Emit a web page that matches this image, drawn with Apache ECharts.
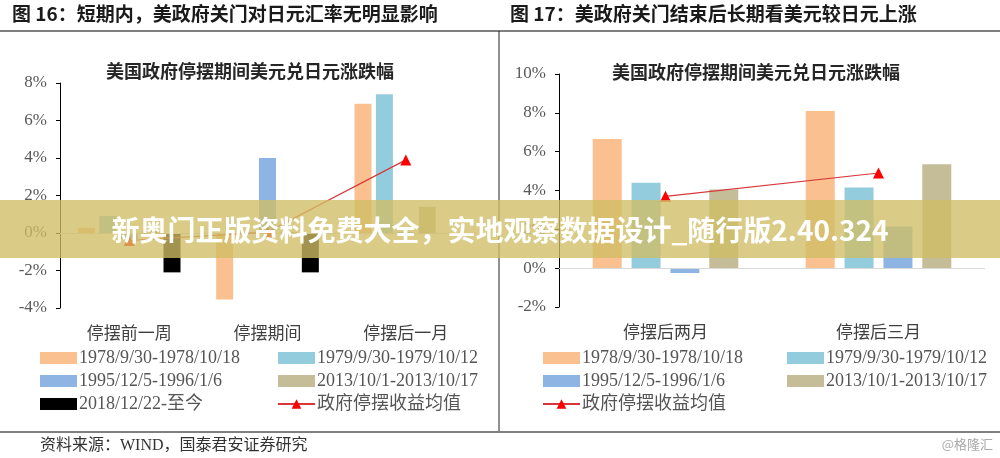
<!DOCTYPE html>
<html><head><meta charset="utf-8">
<script src="https://cdn.jsdelivr.net/npm/echarts@6/dist/echarts.min.js"></script>
<style>html,body{margin:0;padding:0;background:#fff}#c{width:1000px;height:458px}</style>
</head><body><div id="c"></div>
<script>
// ---- data ----
const leftCategories = ['停摆前一周', '停摆期间', '停摆后一月'];
const rightCategories = ['停摆后两月', '停摆后三月'];
const periodNames = ['1978/9/30-1978/10/18', '1979/9/30-1979/10/12', '1995/12/5-1996/1/6', '2013/10/1-2013/10/17', '2018/12/22-至今'];
const meanName = '政府停摆收益均值';
const left1978 = [0.28, -3.55, 6.9];
const left1979 = [0.9, 0.05, 7.4];
const left1995 = [-0.3, 4.0, 0.05];
const left2013 = [0.1, 0.05, 1.4];
const left2018 = [-2.1, -2.1, null];
const leftMean = [-0.4, 0.05, 3.9];
const right1978 = [6.65, 8.1];
const right1979 = [4.4, 4.15];
const right1995 = [-0.25, 2.15];
const right2013 = [4.05, 5.35];
const rightMean = [3.7, 4.9];
const leftTicks = { min: -4, max: 8, step: 2 };
const rightTicks = { min: -2, max: 10, step: 2 };
const headerLeft = '图 16：短期内，美政府关门对日元汇率无明显影响';
const headerRight = '图 17：美政府关门结束后长期看美元较日元上涨';
const chartTitle = '美国政府停摆期间美元兑日元涨跌幅';
const sourceText = '资料来源：WIND，国泰君安证券研究';
const watermark = '@格隆汇';
const bannerText = '新奥门正版资料免费大全，实地观察数据设计_随行版2.40.324';

// ---- styles ----
const colors = ['#FAC090', '#93CDDD', '#8EB4E3', '#C4BD97', '#000000'];
const serif = '"Liberation Serif", "Noto Sans CJK SC", serif';
const cjk = '"Noto Sans CJK SC", sans-serif';

const chart = echarts.init(document.getElementById('c'), null, { renderer: 'canvas' });

function yAxis(gi, t) {
  return {
    type: 'value', gridIndex: gi, min: t.min, max: t.max, interval: t.step,
    axisLine: { show: true, lineStyle: { color: '#000', width: 1 } },
    axisTick: { show: true, length: 4, lineStyle: { color: '#000' } },
    splitLine: { show: false },
    axisLabel: { formatter: '{value}%', fontFamily: serif, fontSize: 17, color: '#595959', margin: 13 }
  };
}
function xAxis(gi, cats) {
  return {
    type: 'category', gridIndex: gi, data: cats,
    axisLine: { show: false, onZero: false }, axisTick: { show: false },
    axisLabel: { fontFamily: cjk, fontSize: 17, color: '#404040', margin: 16 }
  };
}
const zeroLine = { silent: true, symbol: 'none', label: { show: false }, lineStyle: { color: '#D9D9D9', type: 'solid', width: 1 }, data: [{ yAxis: 0 }] };

const leftBars = [left1978, left1979, left1995, left2013, left2018];
const rightBars = [right1978, right1979, right1995, right2013];
const series = [];
leftBars.forEach((d, i) => series.push({
  name: periodNames[i], type: 'bar', xAxisIndex: 0, yAxisIndex: 0, data: d,
  barWidth: 17, barGap: '26%', itemStyle: { color: colors[i] },
  markLine: i === 0 ? zeroLine : undefined
}));
series.push({
  name: meanName, type: 'line', xAxisIndex: 0, yAxisIndex: 0, data: leftMean, z: 5,
  symbol: 'triangle', symbolSize: 11, itemStyle: { color: '#FF0000' },
  lineStyle: { color: '#D8363A', width: 1.2 }
});
rightBars.forEach((d, i) => series.push({
  name: periodNames[i], type: 'bar', xAxisIndex: 1, yAxisIndex: 1, data: d,
  barWidth: 29, barGap: '34%', itemStyle: { color: colors[i] },
  markLine: i === 0 ? zeroLine : undefined
}));
series.push({
  name: meanName, type: 'line', xAxisIndex: 1, yAxisIndex: 1, data: rightMean, z: 5,
  symbol: 'triangle', symbolSize: 11, itemStyle: { color: '#FF0000' },
  lineStyle: { color: '#D8363A', width: 1.2 }
});

function legend(left, names) {
  return {
    orient: 'vertical', left: left, top: 344, itemWidth: 37, itemHeight: 12, itemGap: 5,
    selectedMode: false,
    textStyle: { fontFamily: serif, fontSize: 18, lineHeight: 18, color: '#555', padding: [0, 0, 0, -3] },
    data: names.map(n => n === meanName ? { name: n } : { name: n, icon: 'rect' })
  };
}

function txt(x, y, text, size, opts) {
  return {
    type: 'text', x: x, y: y, z: 50,
    style: Object.assign({ text: text, fontSize: size, fontFamily: cjk, fill: '#222', align: 'left', verticalAlign: 'middle' }, opts || {})
  };
}

const option = {
  animation: false,
  backgroundColor: '#fff',
  grid: [
    { left: 60, right: 1000 - 475, top: 83, bottom: 458 - 308 },
    { left: 559, right: 1000 - 985, top: 74, bottom: 458 - 307 }
  ],
  xAxis: [xAxis(0, leftCategories), xAxis(1, rightCategories)],
  yAxis: [yAxis(0, leftTicks), yAxis(1, rightTicks)],
  legend: [
    legend(35, [periodNames[0], periodNames[2], periodNames[4]]),
    legend(272, [periodNames[1], periodNames[3], meanName]),
    legend(537, [periodNames[0], periodNames[2], meanName]),
    legend(782, [periodNames[1], periodNames[3]])
  ],
  series: series,
  graphic: [
    txt(12, 14, headerLeft, 19, { fontWeight: 'bold', fill: '#1a1a1a' }),
    txt(510, 14, headerRight, 19, { fontWeight: 'bold', fill: '#1a1a1a' }),
    { type: 'line', z: 50, shape: { x1: 0, y1: 31, x2: 1000, y2: 31 }, style: { stroke: '#7f7f7f', lineWidth: 2 } },
    { type: 'line', z: 50, shape: { x1: 499, y1: 31, x2: 499, y2: 432 }, style: { stroke: '#222', lineWidth: 1 } },
    { type: 'line', z: 50, shape: { x1: 0, y1: 432, x2: 1000, y2: 432 }, style: { stroke: '#7f7f7f', lineWidth: 2 } },
    txt(250, 71, chartTitle, 18, { fontWeight: 'bold', align: 'center', fill: '#262626' }),
    txt(756, 72, chartTitle, 18, { fontWeight: 'bold', align: 'center', fill: '#262626' }),
    txt(40, 446, sourceText, 16, { fill: '#333', fontFamily: serif }),
    txt(993, 444, watermark, 13, { fill: '#aaa', align: 'right' }),
    { type: 'rect', z: 90, shape: { x: 0, y: 200, width: 1000, height: 58 }, style: { fill: 'rgba(208,190,100,0.78)' } },
    { type: 'text', z: 91, x: 500, y: 230, style: { text: bannerText, fontSize: 28, fontWeight: 'bold', fontFamily: cjk, fill: '#fff', align: 'center', verticalAlign: 'middle' } }
  ]
};
chart.setOption(option);
</script>
</body></html>
